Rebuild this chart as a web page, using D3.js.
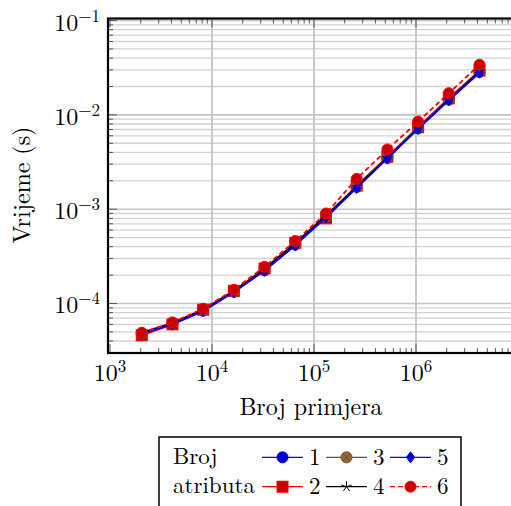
<!DOCTYPE html>
<html><head><meta charset="utf-8">
<script src="https://cdn.jsdelivr.net/npm/d3@7"></script>
<style>html,body{margin:0;padding:0;background:#fff;}svg{display:block;}</style>
</head><body>
<svg id="c" width="511" height="506"></svg>
<script>
const xValues = [2048, 4096, 8192, 16384, 32768, 65536, 131072, 262144, 524288, 1048576, 2097152, 4194304];
const s1 = [4.8e-5, 6.1e-5, 8.4e-5, 1.33e-4, 2.25e-4, 4.2e-4, 8.3e-4, 1.72e-3, 3.5e-3, 7.2e-3, 1.45e-2, 2.85e-2];
const s2 = [4.6e-5, 6.0e-5, 8.6e-5, 1.36e-4, 2.35e-4, 4.4e-4, 8.0e-4, 1.78e-3, 3.6e-3, 7.4e-3, 1.5e-2, 2.95e-2];
const s3 = [4.8e-5, 6.2e-5, 8.5e-5, 1.34e-4, 2.3e-4, 4.3e-4, 8.4e-4, 1.75e-3, 3.55e-3, 7.3e-3, 1.46e-2, 2.9e-2];
const s4 = [4.9e-5, 6.2e-5, 8.6e-5, 1.36e-4, 2.32e-4, 4.35e-4, 8.6e-4, 1.72e-3, 3.5e-3, 7.2e-3, 1.45e-2, 2.88e-2];
const s5 = [4.8e-5, 6.0e-5, 8.3e-5, 1.32e-4, 2.22e-4, 4.15e-4, 8.2e-4, 1.68e-3, 3.45e-3, 7.1e-3, 1.43e-2, 2.8e-2];
const s6 = [4.9e-5, 6.3e-5, 8.8e-5, 1.4e-4, 2.45e-4, 4.6e-4, 9.0e-4, 2.1e-3, 4.3e-3, 8.5e-3, 1.7e-2, 3.4e-2];
const seriesNames = ["1", "2", "3", "4", "5", "6"];
const xTickExp = [3, 4, 5, 6];
const yTickExp = [-4, -3, -2, -1];
const xLabel = "Broj primjera";
const yLabel = "Vrijeme (s)";
const legendTitle = ["Broj", "atributa"];

const FONT = '"Latin Modern Roman", "Liberation Serif", serif';
const FS = 24, FSUP = 17, FSL = 23;
const L = 108, R = 513, T = 18.5, B = 353;
const x = d3.scaleLog().domain([Math.pow(10, 2.98039), Math.pow(10, 2.98039 + (R - L) / 102)]).range([L, R]);
const y = d3.scaleLog().domain([Math.pow(10, -4.525), Math.pow(10, -0.978)]).range([B, T]);

const svg = d3.select("#c");
const styles = [
  {color: "#0000ff", fill: "#0000cc", mark: "circle", dash: null},
  {color: "#ff0000", fill: "#cc0000", mark: "square", dash: null},
  {color: "#734d26", fill: "#996633", mark: "otimes", dash: null},
  {color: "#000000", fill: "#000000", mark: "star", dash: null},
  {color: "#0000ff", fill: "#0000cc", mark: "diamond", dash: null},
  {color: "#ff0000", fill: "#cc0000", mark: "circle", dash: "5,3"}
];
const allSeries = [s1, s2, s3, s4, s5, s6];

function txt(sel, size) {
  return sel.append("text").style("font-family", FONT).attr("font-size", size || FS).attr("fill", "#000");
}

const minorY = [];
for (let e = -5; e <= -1; e++) for (let m = 2; m <= 9; m++) {
  const v = m * Math.pow(10, e);
  if (v > y.domain()[0] && v < y.domain()[1]) minorY.push(v);
}
const majorY = yTickExp.map(e => Math.pow(10, e));
const majorX = xTickExp.map(e => Math.pow(10, e));
const minorX = [];
for (let e = 2; e <= 6; e++) for (let m = 2; m <= 9; m++) {
  const v = m * Math.pow(10, e);
  if (v > x.domain()[0] && v < x.domain()[1]) minorX.push(v);
}
const g = svg.append("g");
g.selectAll(".gmy").data(minorY).enter().append("line")
  .attr("x1", L).attr("x2", R).attr("y1", d => y(d)).attr("y2", d => y(d))
  .attr("stroke", "#d2d2d2").attr("stroke-width", 1.3);
g.selectAll(".gMy").data(majorY).enter().append("line")
  .attr("x1", L).attr("x2", R).attr("y1", d => y(d)).attr("y2", d => y(d))
  .attr("stroke", "#c4c4c4").attr("stroke-width", 1.6);
g.selectAll(".gMx").data(majorX.filter(v => v > x.domain()[0] * 1.05)).enter().append("line")
  .attr("y1", T).attr("y2", B).attr("x1", d => x(d)).attr("x2", d => x(d))
  .attr("stroke", "#c4c4c4").attr("stroke-width", 1.8);

const tk = svg.append("g").attr("stroke", "#555").attr("stroke-width", 1);
minorX.forEach(v => {
  tk.append("line").attr("x1", x(v)).attr("x2", x(v)).attr("y1", B).attr("y2", B - 5);
  tk.append("line").attr("x1", x(v)).attr("x2", x(v)).attr("y1", T).attr("y2", T + 5);
});
majorX.forEach(v => {
  tk.append("line").attr("x1", x(v)).attr("x2", x(v)).attr("y1", B).attr("y2", B - 9);
  tk.append("line").attr("x1", x(v)).attr("x2", x(v)).attr("y1", T).attr("y2", T + 9);
});
minorY.forEach(v => {
  tk.append("line").attr("y1", y(v)).attr("y2", y(v)).attr("x1", L).attr("x2", L + 5);
});
majorY.forEach(v => {
  tk.append("line").attr("y1", y(v)).attr("y2", y(v)).attr("x1", L).attr("x2", L + 9);
});

function drawMark(sel, st, cx, cy) {
  const r = 5.5;
  if (st.mark === "circle") {
    sel.append("circle").attr("cx", cx).attr("cy", cy).attr("r", r)
      .attr("fill", st.fill).attr("stroke", st.color).attr("stroke-width", 1);
  } else if (st.mark === "square") {
    sel.append("rect").attr("x", cx - r).attr("y", cy - r).attr("width", 2 * r).attr("height", 2 * r)
      .attr("fill", st.fill).attr("stroke", st.color).attr("stroke-width", 1);
  } else if (st.mark === "otimes") {
    sel.append("circle").attr("cx", cx).attr("cy", cy).attr("r", r)
      .attr("fill", st.fill).attr("stroke", st.color).attr("stroke-width", 1);
    const k = r * 0.707;
    sel.append("path").attr("d", `M${cx - k},${cy - k}L${cx + k},${cy + k}M${cx - k},${cy + k}L${cx + k},${cy - k}`)
      .attr("stroke", st.color).attr("stroke-width", 1);
  } else if (st.mark === "star") {
    let d = "";
    for (let i = 0; i < 5; i++) {
      const a = -Math.PI / 2 + i * 2 * Math.PI / 5;
      d += `M${cx},${cy}L${cx + r * Math.cos(a)},${cy + r * Math.sin(a)}`;
    }
    sel.append("path").attr("d", d).attr("stroke", st.color).attr("stroke-width", 1).attr("fill", "none");
  } else if (st.mark === "diamond") {
    sel.append("path").attr("d", `M${cx},${cy - r}L${cx + r * 0.75},${cy}L${cx},${cy + r}L${cx - r * 0.75},${cy}Z`)
      .attr("fill", st.fill).attr("stroke", st.color).attr("stroke-width", 1);
  }
}

const line = d3.line().x(d => x(d[0])).y(d => y(d[1]));
const plot = svg.append("g");
allSeries.forEach((vals, i) => {
  const st = styles[i];
  const pts = xValues.map((xv, j) => [xv, vals[j]]);
  plot.append("path").attr("d", line(pts)).attr("fill", "none")
    .attr("stroke", st.color).attr("stroke-width", 1.8)
    .attr("stroke-dasharray", st.dash);
  const mg = plot.append("g");
  pts.forEach(p => drawMark(mg, st, x(p[0]), y(p[1])));
});

svg.append("rect").attr("x", L).attr("y", T).attr("width", R - L).attr("height", B - T)
  .attr("fill", "none").attr("stroke", "#000").attr("stroke-width", 2.2);

xTickExp.forEach(e => {
  const t = txt(svg).attr("x", x(Math.pow(10, e))).attr("y", 381).attr("text-anchor", "middle");
  t.append("tspan").text("10");
  t.append("tspan").attr("dy", -9).attr("font-size", FSUP).text(String(e));
});
yTickExp.forEach(e => {
  const t = txt(svg).attr("x", 100).attr("y", y(Math.pow(10, e)) + 10).attr("text-anchor", "end");
  t.append("tspan").text("10");
  t.append("tspan").attr("dy", -9).attr("font-size", FSUP).text("\u2212" + Math.abs(e));
});

txt(svg).attr("x", 311).attr("y", 415).attr("text-anchor", "middle").text(xLabel);
txt(svg).attr("transform", "translate(29.5,185) rotate(-90)").attr("text-anchor", "middle").text(yLabel);

const lg = svg.append("g");
lg.append("rect").attr("x", 159).attr("y", 437).attr("width", 302).attr("height", 80)
  .attr("fill", "#fff").attr("stroke", "#000").attr("stroke-width", 1.5);
txt(lg, FSL).attr("x", 173).attr("y", 464).text(legendTitle[0]);
txt(lg, FSL).attr("x", 173).attr("y", 493).text(legendTitle[1]);
const colX = [262, 326, 390];
const rowY = [457.3, 486.7];
seriesNames.forEach((name, i) => {
  const col = Math.floor(i / 2), row = i % 2;
  const st = styles[i];
  const x0 = colX[col], cy = rowY[row];
  lg.append("line").attr("x1", x0).attr("x2", x0 + 41).attr("y1", cy).attr("y2", cy)
    .attr("stroke", st.color).attr("stroke-width", 1.3).attr("stroke-dasharray", st.dash);
  drawMark(lg, st, x0 + 20.5, cy);
  txt(lg, FSL).attr("x", x0 + 47).attr("y", cy + 7.5).text(name);
});
</script>
</body></html>
